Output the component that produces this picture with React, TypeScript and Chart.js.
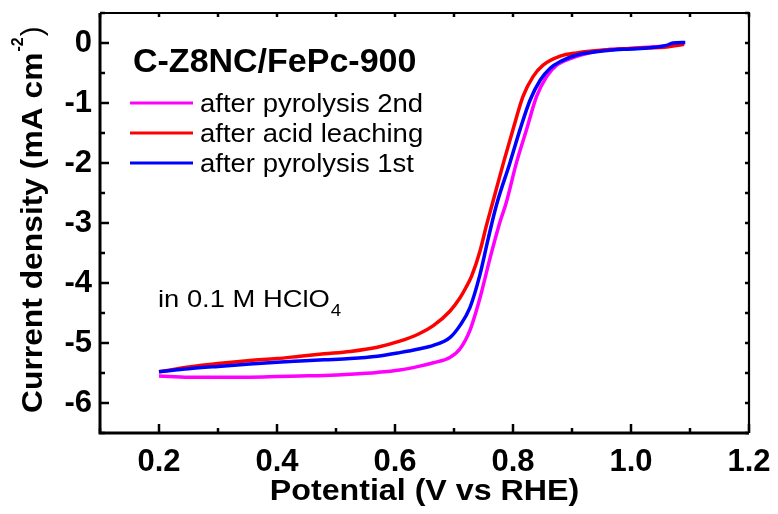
import React, { useEffect, useRef } from 'react';
import { Chart, registerables } from 'chart.js';

Chart.register(...registerables);

// ---- data ----
const X_TICKS = [0.2, 0.4, 0.6, 0.8, 1.0, 1.2];
const X_MINOR = [0.1, 0.3, 0.5, 0.7, 0.9, 1.1];
const Y_TICKS = [0, -1, -2, -3, -4, -5, -6];
const Y_MINOR = [0.5, -0.5, -1.5, -2.5, -3.5, -4.5, -5.5, -6.5];

const SERIES_LABELS = ['after pyrolysis 2nd', 'after acid leaching', 'after pyrolysis 1st'];
const SERIES_COLORS = ['#ff00ff', '#ff0000', '#0000ff'];

const V_2ND = [0.2, 0.25, 0.3, 0.354, 0.4, 0.439, 0.48, 0.524, 0.57, 0.608, 0.64, 0.665, 0.693, 0.71, 0.727, 0.744, 0.761, 0.778, 0.788, 0.806, 0.823, 0.84, 0.857, 0.874, 0.897, 0.936, 0.964, 1.0, 1.03, 1.06, 1.09];
const J_2ND = [-5.55, -5.57, -5.57, -5.57, -5.56, -5.55, -5.54, -5.52, -5.49, -5.45, -5.39, -5.33, -5.24, -5.1, -4.79, -4.25, -3.59, -2.98, -2.68, -1.99, -1.44, -0.89, -0.56, -0.37, -0.26, -0.15, -0.11, -0.09, -0.07, -0.05, -0.01];

const V_ACID = [0.2, 0.25, 0.3, 0.354, 0.4, 0.439, 0.48, 0.524, 0.57, 0.608, 0.64, 0.665, 0.693, 0.71, 0.72, 0.73, 0.744, 0.755, 0.765, 0.784, 0.8, 0.817, 0.834, 0.851, 0.88, 0.908, 0.964, 1.0, 1.03, 1.06, 1.09];
const J_ACID = [-5.48, -5.4, -5.34, -5.29, -5.26, -5.22, -5.18, -5.14, -5.07, -4.97, -4.85, -4.71, -4.47, -4.25, -4.08, -3.88, -3.47, -3.04, -2.68, -1.99, -1.44, -0.89, -0.56, -0.37, -0.22, -0.165, -0.11, -0.09, -0.08, -0.065, -0.02];

const V_1ST = [0.2, 0.25, 0.3, 0.354, 0.4, 0.439, 0.48, 0.524, 0.57, 0.608, 0.64, 0.665, 0.693, 0.71, 0.727, 0.744, 0.758, 0.772, 0.795, 0.812, 0.829, 0.846, 0.863, 0.88, 0.908, 0.964, 1.0, 1.032, 1.06, 1.071, 1.092];
const J_1ST = [-5.48, -5.43, -5.39, -5.35, -5.32, -5.3, -5.28, -5.26, -5.22, -5.16, -5.1, -5.04, -4.91, -4.71, -4.41, -3.86, -3.26, -2.7, -1.99, -1.44, -0.95, -0.62, -0.42, -0.31, -0.2, -0.12, -0.1, -0.08, -0.04, 0.0, 0.01];

const CHART_TITLE = 'C-Z8NC/FePc-900';
const NOTE_TEXT = 'in 0.1 M HClO';
const NOTE_SUB = '4';
const X_TITLE = 'Potential (V vs RHE)';
const Y_TITLE_MAIN = 'Current density (mA cm';
const Y_TITLE_SUP = '-2';
const Y_TITLE_END = ')';

const FAMILY = "'Liberation Sans', Arial, sans-serif";

function toPoints(xs: number[], ys: number[]) {
  return xs.map((x, i) => ({ x, y: ys[i] }));
}

function drawScaledText(ctx: CanvasRenderingContext2D, text: string, x: number, y: number, font: string, sx: number, align: CanvasTextAlign = 'left') {
  ctx.save();
  ctx.font = font;
  ctx.translate(x, y);
  ctx.scale(sx, 1);
  ctx.textAlign = align;
  ctx.textBaseline = 'alphabetic';
  ctx.fillStyle = '#000';
  ctx.fillText(text, 0, 0);
  const w = ctx.measureText(text).width * sx;
  ctx.restore();
  return w;
}

const decorPlugin = {
  id: 'decor',
  afterDraw(chart: any) {
    const { ctx, chartArea, scales } = chart;
    const { left, right, top, bottom } = chartArea;
    const xs = scales.x;
    const ys = scales.y;
    ctx.save();
    ctx.strokeStyle = '#000';
    ctx.lineCap = 'butt';
    // frame
    ctx.lineWidth = 3;
    ctx.beginPath();
    ctx.moveTo(left, top);
    ctx.lineTo(left, bottom);
    ctx.lineTo(right, bottom);
    ctx.stroke();
    ctx.lineWidth = 2.2;
    ctx.beginPath();
    ctx.moveTo(left, top);
    ctx.lineTo(right, top);
    ctx.lineTo(right, bottom);
    ctx.stroke();
    // ticks
    const seg = (x1: number, y1: number, x2: number, y2: number) => {
      ctx.beginPath();
      ctx.moveTo(x1, y1);
      ctx.lineTo(x2, y2);
      ctx.stroke();
    };
    ctx.lineWidth = 2.5;
    X_TICKS.forEach((v) => {
      const p = xs.getPixelForValue(v);
      seg(p, bottom, p, bottom - 9);
      seg(p, top, p, top + 4);
    });
    X_MINOR.forEach((v) => {
      const p = xs.getPixelForValue(v);
      seg(p, bottom, p, bottom - 5);
      seg(p, top, p, top + 4);
    });
    Y_TICKS.forEach((v) => {
      const p = ys.getPixelForValue(v);
      seg(left, p, left + 9, p);
      seg(right, p, right - 4, p);
    });
    Y_MINOR.forEach((v) => {
      const p = ys.getPixelForValue(v);
      seg(left, p, left + 5, p);
      seg(right, p, right - 4, p);
    });

    // chart title
    drawScaledText(ctx, CHART_TITLE, 133, 72, `bold 33px ${FAMILY}`, 1.03);

    // legend
    const legendY = [103, 133, 163];
    chart.data.datasets.forEach((ds: any, i: number) => {
      const y = legendY[i];
      ctx.strokeStyle = ds.borderColor;
      ctx.lineWidth = 3;
      seg(130, y, 193, y);
      drawScaledText(ctx, ds.label, 200, y + 9, `25px ${FAMILY}`, 1.1);
    });

    // note
    const w = drawScaledText(ctx, NOTE_TEXT, 158, 307, `24px ${FAMILY}`, 1.14);
    drawScaledText(ctx, NOTE_SUB, 158 + w + 1, 316, `17px ${FAMILY}`, 1.1);

    // x title
    drawScaledText(ctx, X_TITLE, (left + right) / 2, 500, `bold 29px ${FAMILY}`, 1.11, 'center');

    // y title (rotated)
    ctx.save();
    ctx.translate(42, 413);
    ctx.rotate(-Math.PI / 2);
    let cx = 0;
    cx += drawScaledText(ctx, Y_TITLE_MAIN, cx, 0, `bold 30px ${FAMILY}`, 1.06);
    cx += drawScaledText(ctx, Y_TITLE_SUP, cx + 1, -19, `bold 16px ${FAMILY}`, 1.0) + 2;
    drawScaledText(ctx, Y_TITLE_END, cx, 0, `30px ${FAMILY}`, 1.0);
    ctx.restore();

    ctx.restore();
  },
};

export default function App() {
  const canvasRef = useRef<HTMLCanvasElement | null>(null);

  useEffect(() => {
    const canvas = canvasRef.current;
    if (!canvas) return;
    const seriesX = [V_2ND, V_ACID, V_1ST];
    const seriesY = [J_2ND, J_ACID, J_1ST];
    const drawOrder = [2, 1, 0];
    const chart = new Chart(canvas, {
      type: 'scatter',
      data: {
        datasets: SERIES_LABELS.map((label, i) => ({
          label,
          data: toPoints(seriesX[i], seriesY[i]),
          showLine: true,
          borderColor: SERIES_COLORS[i],
          backgroundColor: SERIES_COLORS[i],
          borderWidth: 3.5,
          pointRadius: 0,
          cubicInterpolationMode: 'monotone' as const,
          order: drawOrder[i],
        })),
      },
      options: {
        responsive: false,
        animation: false,
        events: [],
        layout: { padding: { top: 13, right: 29, left: 0, bottom: 0 } },
        plugins: { legend: { display: false }, tooltip: { enabled: false } },
        scales: {
          x: {
            type: 'linear',
            min: 0.1,
            max: 1.2,
            afterBuildTicks: (s: any) => {
              s.ticks = X_TICKS.map((v) => ({ value: v }));
            },
            afterFit: (s: any) => {
              s.height = 81;
              s.paddingLeft = 0;
              s.paddingRight = 0;
              s.paddingTop = 0;
              s.paddingBottom = 0;
            },
            grid: { display: false, drawTicks: false },
            border: { display: false },
            ticks: {
              color: '#000',
              padding: 11,
              maxRotation: 0,
              autoSkip: false,
              font: { family: FAMILY, size: 31, weight: 'bold' },
              callback: (v: any) => Number(v).toFixed(1),
            },
          },
          y: {
            type: 'linear',
            min: -6.5,
            max: 0.5,
            afterBuildTicks: (s: any) => {
              s.ticks = Y_TICKS.map((v) => ({ value: v }));
            },
            afterFit: (s: any) => {
              s.width = 100;
              s.paddingLeft = 0;
              s.paddingRight = 0;
              s.paddingTop = 0;
              s.paddingBottom = 0;
            },
            grid: { display: false, drawTicks: false },
            border: { display: false },
            ticks: {
              color: '#000',
              padding: 8,
              autoSkip: false,
              font: { family: FAMILY, size: 31, weight: 'bold' },
              callback: (v: any) => String(v),
            },
          },
        },
      },
      plugins: [decorPlugin],
    } as any);
    return () => chart.destroy();
  }, []);

  return (
    <div style={{ position: 'fixed', left: 0, top: 0, width: 778, height: 514, background: '#fff' }}>
      <canvas ref={canvasRef} width={778} height={514} />
    </div>
  );
}
